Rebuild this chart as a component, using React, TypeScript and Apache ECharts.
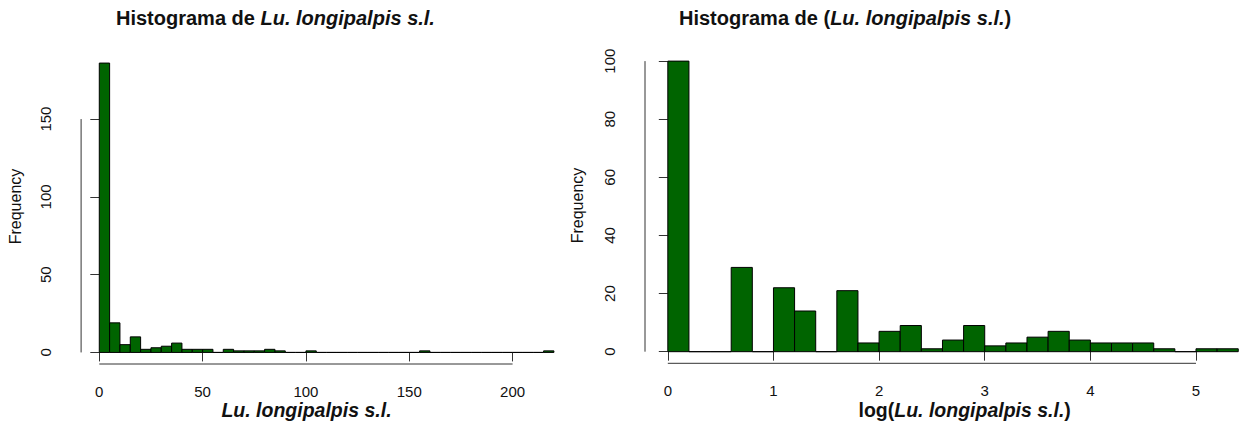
import React, { useEffect, useRef } from "react";
import * as echarts from "echarts";

// ---------- data ----------
const leftBinWidth = 5;
const leftBinStart = 0;
const leftCounts = [
  186, 19, 5, 10, 2, 3, 4, 6, 2, 2, 2, 0, 2, 1, 1, 1, 2, 1, 0, 0, 1, 0,
  0, 0, 0, 0, 0, 0, 0, 0, 0, 1, 0, 0, 0, 0, 0, 0, 0, 0, 0, 0, 0, 1,
];
const rightBinWidth = 0.2;
const rightBinStart = 0;
const rightCounts = [
  100, 0, 0, 29, 0, 22, 14, 0, 21, 3, 7, 9, 1, 4, 9, 2, 3, 5, 7, 4, 3, 3, 3,
  1, 0, 1, 1,
];
const leftXTicks = [0, 50, 100, 150, 200];
const leftYTicks = [0, 50, 100, 150];
const rightXTicks = [0, 1, 2, 3, 4, 5];
const rightYTicks = [0, 20, 40, 60, 80, 100];

const titleLeft = "{b|Histograma de }{bi|Lu. longipalpis s.l.}";
const titleRight = "{b|Histograma de (}{bi|Lu. longipalpis s.l.}{b|)}";
const xlabLeft = "{bi|Lu. longipalpis s.l.}";
const xlabRight = "{b|log(}{bi|Lu. longipalpis s.l.}{b|)}";
const ylab = "Frequency";

// ---------- styling ----------
const FONT = '"Liberation Sans", Arial, Helvetica, sans-serif';
const BAR_FILL = "#006400";
const AXIS_COLOR = "#333";
const TEXT_COLOR = "#111";

const bins = (start: number, w: number, counts: number[]) =>
  counts.map((c, i) => [start + i * w, start + (i + 1) * w, c]);

const leftX = { min: -8.8, max: 228.8 };
const leftY = { min: -7.44, max: 193.44 };
const rightX = { min: -0.216, max: 5.426 };
const rightY = { min: -4, max: 104 };

const renderBar = (_p: any, api: any) => {
  const p0 = api.coord([api.value(0), 0]);
  const p1 = api.coord([api.value(1), api.value(2)]);
  return {
    type: "rect",
    shape: { x: p0[0], y: p1[1], width: p1[0] - p0[0], height: p0[1] - p1[1] },
    style: { fill: BAR_FILL, stroke: "#000", lineWidth: 1 },
  };
};

const renderLine = (_p: any, api: any) => {
  const a = api.coord([api.value(0), api.value(1)]);
  const b = api.coord([api.value(2), api.value(3)]);
  return {
    type: "line",
    shape: { x1: a[0], y1: a[1], x2: b[0], y2: b[1] },
    style: { stroke: AXIS_COLOR, lineWidth: 1 },
  };
};

const axisLines = (xt: number[], yt: number[], xr: any, yr: any) => [
  [xt[0], yr.min, xt[xt.length - 1], yr.min],
  [xr.min, yt[0], xr.min, yt[yt.length - 1]],
];

const richStyles = (size: number) => ({
  b: { fontFamily: FONT, fontWeight: "bold", fontSize: size, fill: TEXT_COLOR, color: TEXT_COLOR },
  bi: {
    fontFamily: FONT,
    fontWeight: "bold",
    fontStyle: "italic",
    fontSize: size,
    fill: TEXT_COLOR,
    color: TEXT_COLOR,
  },
});

const xAxisCommon = (ticks: number[], r: any, gridIndex: number) => ({
  type: "value",
  gridIndex,
  min: r.min,
  max: r.max,
  axisLine: { show: false },
  splitLine: { show: false },
  axisTick: {
    show: true,
    length: 9,
    customValues: ticks,
    lineStyle: { color: AXIS_COLOR, width: 1 },
  },
  axisLabel: {
    customValues: ticks,
    fontSize: 15,
    fontFamily: FONT,
    color: TEXT_COLOR,
    margin: 20,
  },
});

const yAxisCommon = (ticks: number[], r: any, gridIndex: number) => ({
  type: "value",
  gridIndex,
  min: r.min,
  max: r.max,
  axisLine: { show: false },
  splitLine: { show: false },
  axisTick: {
    show: true,
    length: 9,
    customValues: ticks,
    lineStyle: { color: AXIS_COLOR, width: 1 },
  },
  axisLabel: {
    customValues: ticks,
    fontSize: 15,
    fontFamily: FONT,
    color: TEXT_COLOR,
    margin: 28.5,
    rotate: 90,
  },
});

const option: any = {
  animation: false,
  backgroundColor: "#fff",
  grid: [
    { left: 81.1, top: 51.5, width: 491, height: 312.5 },
    { left: 645, top: 49.5, width: 596, height: 313.8 },
  ],
  xAxis: [xAxisCommon(leftXTicks, leftX, 0), xAxisCommon(rightXTicks, rightX, 1)],
  yAxis: [yAxisCommon(leftYTicks, leftY, 0), yAxisCommon(rightYTicks, rightY, 1)],
  series: [
    {
      type: "custom",
      name: "left",
      xAxisIndex: 0,
      yAxisIndex: 0,
      renderItem: renderBar,
      encode: { x: [0, 1], y: 2 },
      data: bins(leftBinStart, leftBinWidth, leftCounts),
    },
    {
      type: "custom",
      name: "right",
      xAxisIndex: 1,
      yAxisIndex: 1,
      renderItem: renderBar,
      encode: { x: [0, 1], y: 2 },
      data: bins(rightBinStart, rightBinWidth, rightCounts),
    },
    {
      type: "custom",
      name: "leftAxes",
      xAxisIndex: 0,
      yAxisIndex: 0,
      renderItem: renderLine,
      encode: { x: [0, 2], y: [1, 3] },
      data: axisLines(leftXTicks, leftYTicks, leftX, leftY),
    },
    {
      type: "custom",
      name: "rightAxes",
      xAxisIndex: 1,
      yAxisIndex: 1,
      renderItem: renderLine,
      encode: { x: [0, 2], y: [1, 3] },
      data: axisLines(rightXTicks, rightYTicks, rightX, rightY),
    },
  ],
  graphic: [
    {
      type: "text",
      x: 116,
      y: 18,
      style: { text: titleLeft, rich: richStyles(20), align: "left", verticalAlign: "middle" },
    },
    {
      type: "text",
      x: 679,
      y: 18,
      style: { text: titleRight, rich: richStyles(20), align: "left", verticalAlign: "middle" },
    },
    {
      type: "text",
      x: 306.5,
      y: 410,
      style: { text: xlabLeft, rich: richStyles(19.5), align: "center", verticalAlign: "middle" },
    },
    {
      type: "text",
      x: 964.7,
      y: 410,
      style: { text: xlabRight, rich: richStyles(19.5), align: "center", verticalAlign: "middle" },
    },
    {
      type: "text",
      x: 15,
      y: 206.5,
      rotation: Math.PI / 2,
      style: {
        text: ylab,
        font: `16px ${FONT}`,
        fill: TEXT_COLOR,
        align: "center",
        verticalAlign: "middle",
      },
    },
    {
      type: "text",
      x: 577,
      y: 205.5,
      rotation: Math.PI / 2,
      style: {
        text: ylab,
        font: `16px ${FONT}`,
        fill: TEXT_COLOR,
        align: "center",
        verticalAlign: "middle",
      },
    },
  ],
};

export default function App() {
  const ref = useRef<HTMLDivElement>(null);
  useEffect(() => {
    document.body.style.margin = "0";
    const chart = echarts.init(ref.current as HTMLDivElement, null, {
      renderer: "svg",
      width: 1241,
      height: 423,
    });
    chart.setOption(option);
    return () => chart.dispose();
  }, []);
  return (
    <div
      ref={ref}
      style={{ position: "absolute", left: 0, top: 0, width: 1241, height: 423 }}
    />
  );
}
